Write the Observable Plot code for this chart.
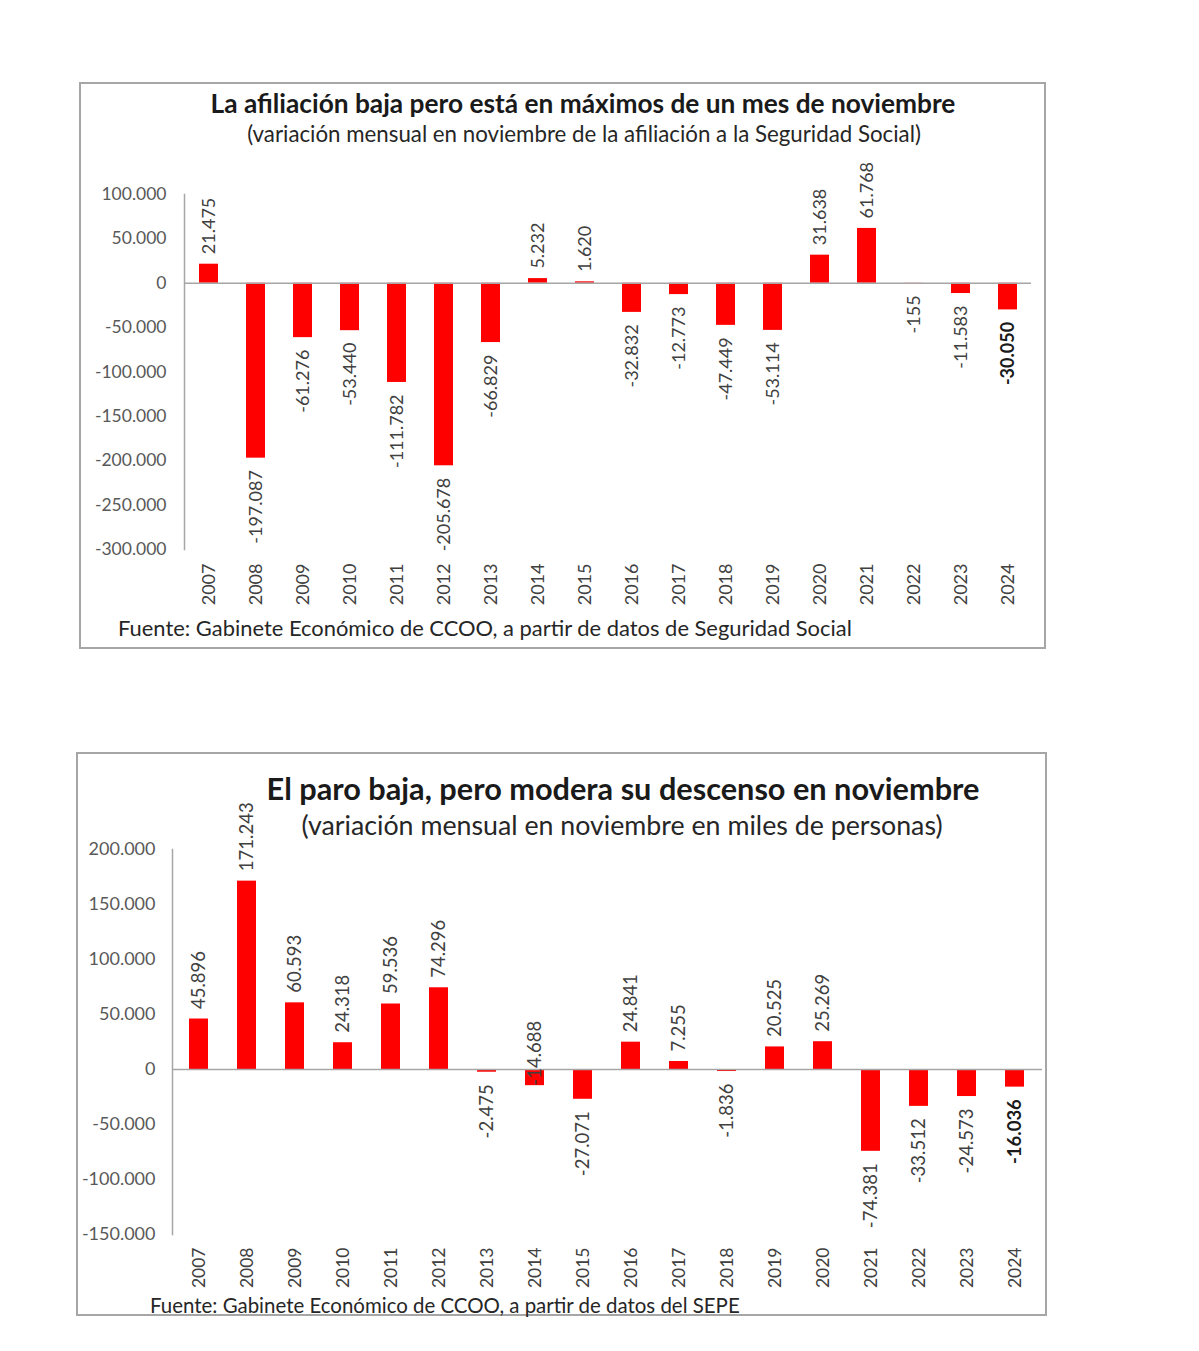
<!DOCTYPE html>
<html><head><meta charset="utf-8">
<script src="https://cdn.jsdelivr.net/npm/d3@7"></script>
<script src="https://cdn.jsdelivr.net/npm/@observablehq/plot@0.6"></script>
<style>
body{margin:0;background:#fff;font-family:Lato,sans-serif;width:1199px;height:1351px;position:relative;overflow:hidden}
.box{position:absolute}
.border{position:absolute;left:0;top:0;right:0;bottom:0;border:2px solid #a6a6a6;box-sizing:border-box}
.box svg{position:absolute;left:0;top:0;overflow:visible}
.t{position:absolute;white-space:nowrap;line-height:1;transform:translate(-50%,-50%);color:#1a1a1a}
.f{position:absolute;white-space:nowrap;line-height:1;transform:translateY(-50%);color:#262626}
</style></head>
<body>
<div class="box" id="b1" style="left:79px;top:82px;width:967px;height:567px"><div class="border"></div></div>
<div class="box" id="b2" style="left:76px;top:752px;width:971px;height:564px"><div class="border"></div></div>

<div class="t fit" data-w="745" style="left:583px;top:103px;font-weight:700;font-size:23px">La afiliación baja pero está en máximos de un mes de noviembre</div>
<div class="t fit" data-w="674" style="left:584px;top:134px;font-size:20px;color:#262626">(variación mensual en noviembre de la afiliación a la Seguridad Social)</div>
<div class="f fit" data-w="734" style="left:118px;top:628px;font-size:20px">Fuente: Gabinete Económico de CCOO, a partir de datos de Seguridad Social</div>

<div class="t fit" data-w="713" style="left:623px;top:789px;font-weight:700;font-size:26px">El paro baja, pero modera su descenso en noviembre</div>
<div class="t fit" data-w="641" style="left:622px;top:825px;font-size:22px;color:#262626">(variación mensual en noviembre en miles de personas)</div>
<div class="f fit" data-w="590" style="left:150px;top:1305px;font-size:19px">Fuente: Gabinete Económico de CCOO, a partir de datos del SEPE</div>

<script>
const years = ["2007","2008","2009","2010","2011","2012","2013","2014","2015","2016","2017","2018","2019","2020","2021","2022","2023","2024"];
const afiliacion = [21475, -197087, -61276, -53440, -111782, -205678, -66829, 5232, 1620, -32832, -12773, -47449, -53114, 31638, 61768, -155, -11583, -30050];
const paro = [45896, 171243, 60593, 24318, 59536, 74296, -2475, -14688, -27071, 24841, 7255, -1836, 20525, 25269, -74381, -33512, -24573, -16036];
const ticks1 = [100000, 50000, 0, -50000, -100000, -150000, -200000, -250000, -300000];
const ticks2 = [200000, 150000, 100000, 50000, 0, -50000, -100000, -150000];
// years whose negative label sits over the bar, reading upward (as in the original)
const labelOverBar2 = ["2014"];

const fmt = d3.formatLocale({decimal: ",", thousands: ".", grouping: [3], currency: ["", "€"], minus: "-"}).format(",d");

function chart(o) {
  const data = years.map((year, i) => ({year, value: o.values[i]}));
  const last = years[years.length - 1];
  const over = o.over || [];
  const lab = {x: "year", y: "value", text: d => fmt(d.value), rotate: -90, fontSize: o.labSize, fill: "#404040"};
  const pos = data.filter(d => d.value >= 0 && !over.includes(d.year));
  const neg = data.filter(d => d.value < 0 && !over.includes(d.year));
  const ov = data.filter(d => over.includes(d.year));
  const marks = [
    Plot.barY(data, {x: "year", y: "value", fill: "#ff0000"}),
    Plot.ruleY([0], {stroke: "#a6a6a6", strokeWidth: 1.5}),
    Plot.frame({anchor: "left", stroke: "#a6a6a6", strokeWidth: 1.5}),
    Plot.axisY({ticks: o.ticks, tickSize: 0, tickPadding: o.yPad, tickFormat: fmt, fontSize: o.tickSize, color: "#595959"}),
    Plot.axisX({tickSize: 0, tickPadding: o.xPad, tickRotate: -90, fontSize: o.yearSize, color: "#404040"}),
    Plot.text(pos.filter(d => d.year !== last), {...lab, textAnchor: "start", dy: -10}),
    Plot.text(neg.filter(d => d.year !== last), {...lab, textAnchor: "end", dy: 12}),
    Plot.text(ov, {...lab, textAnchor: "start", dy: 0}),
    Plot.text(pos.filter(d => d.year === last), {...lab, textAnchor: "start", dy: -10, fontWeight: "bold", fill: "#1a1a1a"}),
    Plot.text(neg.filter(d => d.year === last), {...lab, textAnchor: "end", dy: 12, fontWeight: "bold", fill: "#1a1a1a"})
  ];
  return Plot.plot({
    width: o.width, height: o.height,
    marginLeft: o.mL, marginRight: o.mR, marginTop: o.mT, marginBottom: o.mB,
    x: {type: "band", domain: years, paddingInner: 0.6, paddingOuter: 0.3, label: null, axis: null},
    y: {domain: o.domain, label: null, axis: null},
    style: {fontFamily: "Lato, sans-serif", background: "transparent", overflow: "visible"},
    marks
  });
}

document.getElementById("b1").appendChild(chart({
  values: afiliacion, domain: [-300000, 100000], ticks: ticks1,
  width: 967, height: 567, mL: 105, mR: 15, mT: 112, mB: 100,
  yPad: 18, xPad: 14, tickSize: 17.5, yearSize: 18, labSize: 18
}));
document.getElementById("b2").appendChild(chart({
  values: paro, domain: [-150000, 200000], ticks: ticks2, over: labelOverBar2,
  width: 971, height: 564, mL: 96, mR: 5, mT: 97, mB: 82,
  yPad: 17, xPad: 13, tickSize: 18, yearSize: 17.5, labSize: 18.5
}));

// fit the HTML texts to the original widths
document.querySelectorAll(".fit").forEach(el => {
  const target = +el.dataset.w;
  const w = el.getBoundingClientRect().width;
  const fs = parseFloat(el.style.fontSize);
  if (w > 0) el.style.fontSize = (fs * target / w).toFixed(2) + "px";
});
</script>
</body></html>
